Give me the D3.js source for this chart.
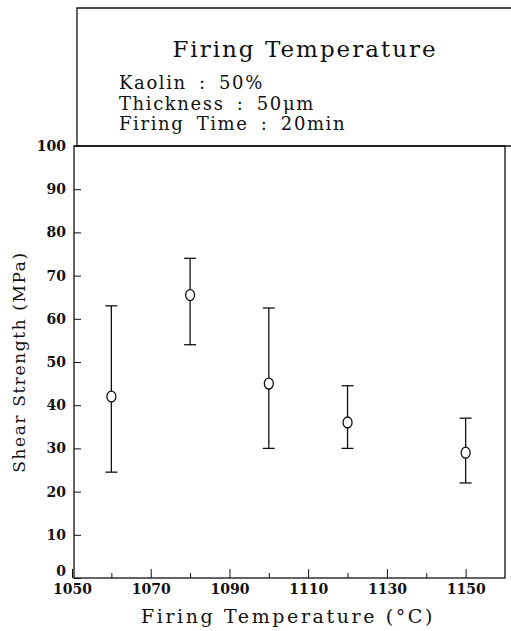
<!DOCTYPE html>
<html><head><meta charset="utf-8">
<script src="https://cdn.jsdelivr.net/npm/d3@7"></script>
<style>body{margin:0;background:#fff}svg{display:block}text{font-family:"DejaVu Serif","Liberation Serif",serif;fill:#111}</style>
</head><body><svg id="c" width="511" height="631"></svg>
<script>
const temps = [1060, 1080, 1100, 1120, 1150];
const means = [42, 65.5, 45, 36, 29];
const highs = [63, 74, 62.5, 44.5, 37];
const lows = [24.5, 54, 30, 30, 22];
const xTicks = [1050, 1060, 1070, 1080, 1090, 1100, 1110, 1120, 1130, 1140, 1150];
const xLabels = [1050, 1070, 1090, 1110, 1130, 1150];
const yTicks = [0, 10, 20, 30, 40, 50, 60, 70, 80, 90, 100];
const infoLines = ["Kaolin : 50%", "Thickness : 50\u03bcm", "Firing Time : 20min"];

const svg = d3.select("#c");
const L = 74, R = 505, T = 146, B = 578;
const x = d3.scaleLinear().domain([1050, 1160]).range([L - 2, R]);
const y = d3.scaleLinear().domain([0, 100]).range([B, T]);

// top info box
svg.append("path").attr("d", `M${L + 3},${T} L${L + 3},8 L511,8`).attr("fill", "none").attr("stroke", "#111").attr("stroke-width", 1.3);
svg.append("text").attr("x", 305).attr("y", 57).attr("text-anchor", "middle").attr("font-size", 23).attr("letter-spacing", 2).text("Firing Temperature");
svg.selectAll(".info").data(infoLines).enter().append("text")
  .attr("x", 119).attr("y", (d, i) => 89 + i * 20.5).attr("font-size", 18).attr("letter-spacing", 1.6).attr("word-spacing", 5).text(d => d);

// plot frame
svg.append("rect").attr("x", L).attr("y", T).attr("width", R - L).attr("height", B - T).attr("fill", "none").attr("stroke", "#111").attr("stroke-width", 1.3);
svg.append("line").attr("x1", L).attr("x2", 511).attr("y1", T).attr("y2", T).attr("stroke", "#111").attr("stroke-width", 1.3);

// y axis
const yAxis = d3.axisLeft(y).tickValues(yTicks).tickSize(-7).tickPadding(8).tickFormat(d3.format("d"));
const gy = svg.append("g").attr("transform", `translate(${L},0)`).call(yAxis);
gy.select(".domain").remove();
gy.selectAll("text").attr("font-size", 14).attr("font-weight", "bold").attr("font-family", "DejaVu Serif, serif")
  .attr("dy", d => d === 0 ? "-0.2em" : "0.32em");
gy.selectAll("line").attr("stroke", "#111");

// x axis
const xAxis = d3.axisBottom(x).tickValues(xTicks).tickSize(0).tickFormat(d => xLabels.includes(d) ? d : "");
const gx = svg.append("g").attr("transform", `translate(0,${B})`).call(xAxis);
gx.select(".domain").remove();
gx.selectAll(".tick line").attr("y2", d => xLabels.includes(d) ? -9 : -5).attr("stroke", "#111");
gx.selectAll("text").attr("dy", "0.72em").attr("y", 6).attr("font-size", 14).attr("font-weight", "bold").attr("font-family", "DejaVu Serif, serif");

// axis titles
svg.append("text").attr("transform", `translate(25,${(T + B) / 2}) rotate(-90)`).attr("text-anchor", "middle").attr("font-size", 17).attr("letter-spacing", 1.6).text("Shear Strength (MPa)");
svg.append("text").attr("x", 288).attr("y", 623).attr("text-anchor", "middle").attr("font-size", 19).attr("letter-spacing", 2.6).text("Firing Temperature (\u00b0C)");

// error bars
const g = svg.append("g").attr("stroke", "#111").attr("fill", "none").attr("stroke-width", 1.3);
temps.forEach((t, i) => {
  const cx = x(t);
  g.append("line").attr("x1", cx).attr("x2", cx).attr("y1", y(highs[i])).attr("y2", y(means[i]) - 5);
  g.append("line").attr("x1", cx).attr("x2", cx).attr("y1", y(means[i]) + 5).attr("y2", y(lows[i]));
  g.append("line").attr("x1", cx - 6).attr("x2", cx + 6).attr("y1", y(highs[i])).attr("y2", y(highs[i]));
  g.append("line").attr("x1", cx - 6).attr("x2", cx + 6).attr("y1", y(lows[i])).attr("y2", y(lows[i]));
  g.append("ellipse").attr("cx", cx).attr("cy", y(means[i])).attr("rx", 4.5).attr("ry", 5.5);
});
</script></body></html>
